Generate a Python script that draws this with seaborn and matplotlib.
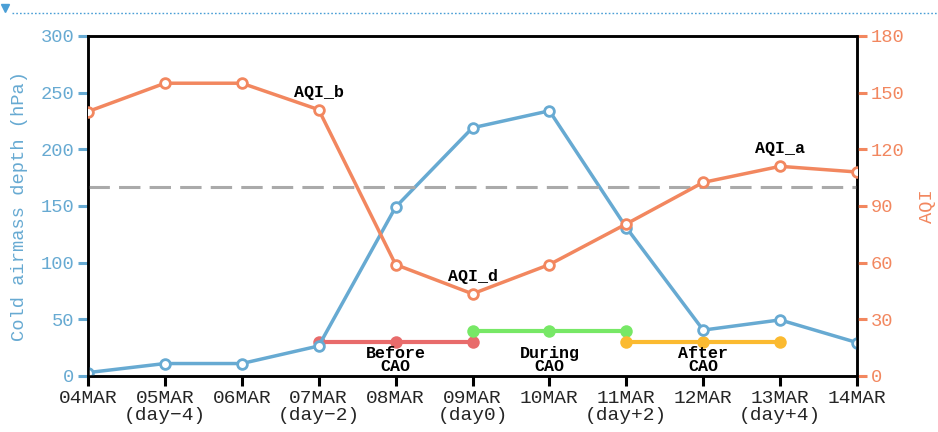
import numpy as np
import pandas as pd
import matplotlib
matplotlib.use("Agg")
import matplotlib.pyplot as plt
from matplotlib.lines import Line2D
import seaborn as sns

# ---- data -------------------------------------------------------------
dates = ["04MAR", "05MAR", "06MAR", "07MAR", "08MAR", "09MAR",
         "10MAR", "11MAR", "12MAR", "13MAR", "14MAR"]
day_tags = ["", "(day−4)", "", "(day−2)", "", "(day0)",
            "", "(day+2)", "", "(day+4)", ""]
cold_depth = [3, 11, 11, 26.5, 149, 219, 234, 131, 40.5, 49.5, 29.5]   # hPa
aqi = [140, 155, 155, 141, 59, 43.5, 59, 80.5, 102.5, 111, 108]        # AQI
aqi_threshold = 100

phase_names = ["Before\nCAO", "During\nCAO", "After\nCAO"]
phase_start = [3, 5, 7]
phase_end = [5, 7, 9]
phase_level = [30, 40, 30]          # hPa, left axis
phase_colors = ["#e86b6b", "#77e866", "#fbba30"]

aqi_labels = ["AQI_b", "AQI_d", "AQI_a"]
aqi_label_idx = [3, 5, 9]

# ---- style ------------------------------------------------------------
sns.set_style("white")
plt.rcParams["font.family"] = ["Liberation Mono", "DejaVu Sans Mono"]

BLUE = "#67aad2"
ORANGE = "#f2875f"
GRAY = "#aaaaaa"

x = np.arange(len(dates))
df = pd.DataFrame({"x": x, "depth": cold_depth, "aqi": aqi})

fig = plt.figure(figsize=(9.38, 4.32), dpi=100)
ax = fig.add_axes([88 / 938, 1 - 376 / 432, 769 / 938, 340 / 432])
ax2 = ax.twinx()

# phase bars (left axis) with their names underneath
for s, e, lev, c, name in zip(phase_start, phase_end, phase_level,
                              phase_colors, phase_names):
    seg = pd.DataFrame({"x": np.arange(s, e + 1),
                        "y": [lev] * (e - s + 1)})
    sns.lineplot(data=seg, x="x", y="y", ax=ax, color=c, lw=3,
                 marker="o", markersize=9, markeredgewidth=0,
                 zorder=2, legend=False)
    ax.text((s + e) / 2, 14, name, ha="center", va="center",
            fontsize=12, fontweight="bold", linespacing=0.85,
            color="black", zorder=5)

# cold airmass depth (left axis)
sns.lineplot(data=df, x="x", y="depth", ax=ax, color=BLUE, lw=2.5,
             marker="o", markersize=7, markerfacecolor="white",
             markeredgecolor=BLUE, markeredgewidth=2, zorder=3,
             legend=False)

# AQI (right axis)
ax2.axhline(aqi_threshold, color=GRAY, lw=2.2, ls=(0, (7, 3)), zorder=1)
sns.lineplot(data=df, x="x", y="aqi", ax=ax2, color=ORANGE, lw=2.5,
             marker="o", markersize=7, markerfacecolor="white",
             markeredgecolor=ORANGE, markeredgewidth=2, zorder=3,
             legend=False)
for lab, i in zip(aqi_labels, aqi_label_idx):
    ax2.annotate(lab, (x[i], aqi[i]), xytext=(0, 12.5),
                 textcoords="offset points", ha="center", va="center",
                 fontsize=12, fontweight="bold", color="black")

# ---- axes -------------------------------------------------------------
ax.set_xlim(0, 10)
ax.set_ylim(0, 300)
ax2.set_ylim(0, 180)
ax.set_yticks(np.arange(0, 301, 50))
ax2.set_yticks(np.arange(0, 181, 30))
ax.set_xticks(x)
ax.set_xticklabels([d if t == "" else f"{d}\n{t}"
                    for d, t in zip(dates, day_tags)],
                   linespacing=1.0)

ax.tick_params(axis="x", direction="out", length=7, width=2.2,
               color="black", labelsize=14, pad=3, bottom=True)
ax.tick_params(axis="y", direction="out", length=7, width=2.2,
               color=BLUE, labelcolor=BLUE, labelsize=13.5, pad=3,
               left=True)
ax2.tick_params(axis="y", direction="out", length=7, width=2.2,
                color=ORANGE, labelcolor=ORANGE, labelsize=13.5, pad=3,
                right=True)

ax.set_xlabel("")
ax.set_ylabel("Cold airmass depth (hPa)", color=BLUE, fontsize=13.5,
              rotation=90, va="center", ha="center")
ax.yaxis.set_label_coords(-68 / 769, 0.5)
ax2.set_ylabel("AQI", color=ORANGE, fontsize=13.5,
               rotation=90, va="center", ha="center")
ax2.yaxis.set_label_coords(1 + 70 / 769, 0.5)

for a in (ax, ax2):
    for sp in a.spines.values():
        sp.set_color("black")
        sp.set_linewidth(1.8)
        sp.set_visible(True)

# dotted rule along the top edge with its small marker
fig.add_artist(Line2D([12 / 938, 1], [1 - 13 / 432] * 2, color="#4b9fd6",
                      lw=1, ls=(0, (1.2, 1.5)), transform=fig.transFigure))
fig.add_artist(Line2D([5 / 938], [1 - 8 / 432], marker="v", markersize=6,
                      color="#4b9fd6", lw=0, transform=fig.transFigure))

fig.savefig("out.png", dpi=100)
